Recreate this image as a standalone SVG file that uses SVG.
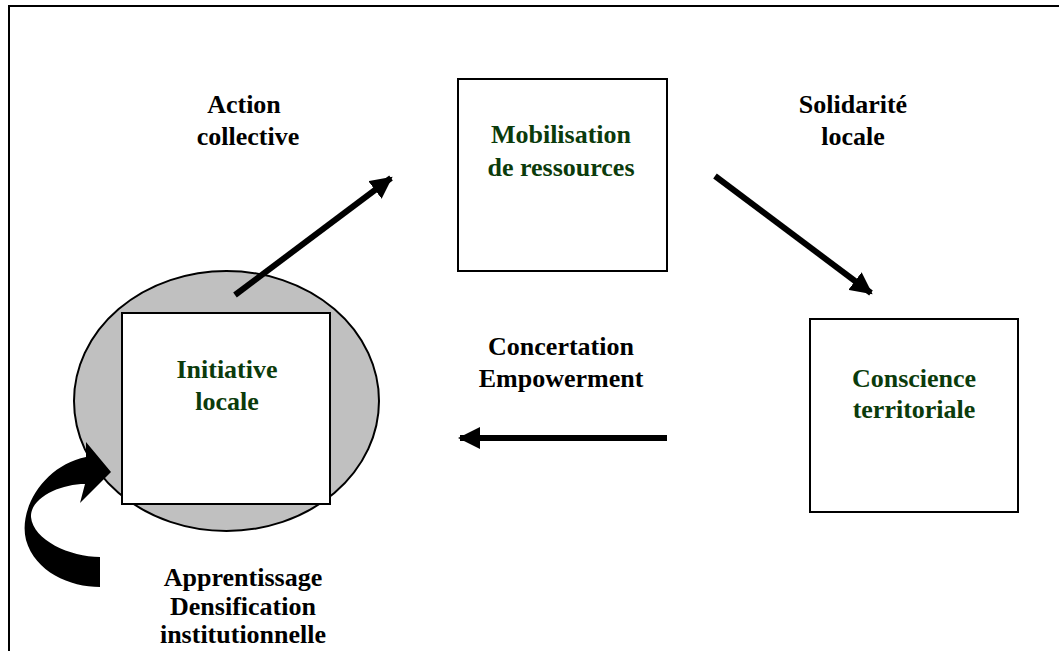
<svg xmlns="http://www.w3.org/2000/svg" width="1059" height="651" viewBox="0 0 1059 651">
<style>
.box{fill:#fff;stroke:#000;stroke-width:2}
.node{font-family:"Liberation Serif","Times New Roman",serif;font-weight:bold;font-size:26px;fill:#0b3b0b;text-anchor:middle}
.lbl{font-family:"Liberation Serif","Times New Roman",serif;font-weight:bold;font-size:26px;fill:#000;text-anchor:middle}
.conn{stroke:#000;stroke-width:6;fill:none}
</style>
<defs>
<marker id="ah" markerUnits="userSpaceOnUse" markerWidth="24" markerHeight="22" refX="20" refY="11" orient="auto">
<path d="M0,0 L22,11 L0,22 Z" fill="#000"/>
</marker>
</defs>
<path d="M9,651 V6 H1059" fill="none" stroke="#000" stroke-width="2"/>
<g id="ellipse-initiative">
<ellipse cx="226.5" cy="401" rx="152.5" ry="130" fill="#c0c0c0" stroke="#000" stroke-width="2"/>
</g>
<g id="connectors">
<line class="conn" x1="235" y1="295" x2="391" y2="178" marker-end="url(#ah)"/>
<line class="conn" x1="715" y1="176" x2="871" y2="293" marker-end="url(#ah)"/>
<line class="conn" x1="667" y1="438" x2="460" y2="438" marker-end="url(#ah)"/>
<path d="M100,587 C70,587 35,572 26,540 C18,508 45,465 86,457 L86,442 L111,472 L80,503 L85,484 C60,484 30,498 31,517 C33,540 70,557 100,557 Z" fill="#000"/>
</g>
<g id="node-initiative">
<rect class="box" x="122" y="313" width="208" height="191"/>
<text class="node" x="227" y="378">Initiative</text>
<text class="node" x="227" y="410">locale</text>
</g>
<g id="node-mobilisation">
<rect class="box" x="458" y="79" width="209" height="192"/>
<text class="node" x="561" y="143">Mobilisation</text>
<text class="node" x="561" y="176">de ressources</text>
</g>
<g id="node-conscience">
<rect class="box" x="810" y="319" width="208" height="193"/>
<text class="node" x="914" y="387">Conscience</text>
<text class="node" x="914" y="418">territoriale</text>
</g>
<g id="labels">
<text class="lbl" x="244" y="113">Action</text>
<text class="lbl" x="248" y="145">collective</text>
<text class="lbl" x="853" y="113">Solidarité</text>
<text class="lbl" x="853" y="145">locale</text>
<text class="lbl" x="561" y="355">Concertation</text>
<text class="lbl" x="561" y="387">Empowerment</text>
<text class="lbl" x="243" y="586">Apprentissage</text>
<text class="lbl" x="243" y="615">Densification</text>
<text class="lbl" x="243" y="643">institutionnelle</text>
</g>
</svg>
